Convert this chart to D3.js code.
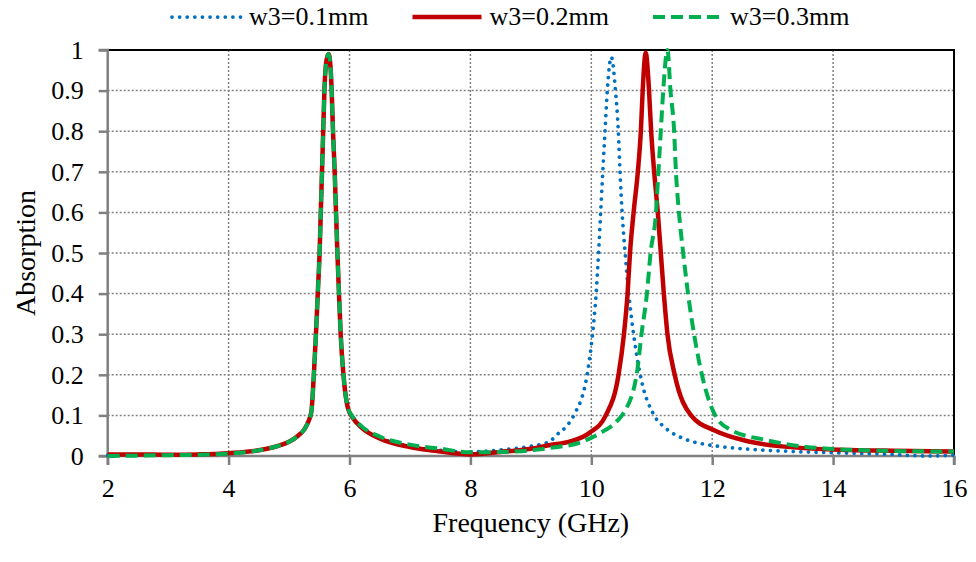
<!DOCTYPE html>
<html>
<head>
<meta charset="utf-8">
<script src="https://cdn.jsdelivr.net/npm/d3@7"></script>
<style>
  body { margin: 0; background: #fff; }
</style>
</head>
<body>
<div id="chart"></div>
<script>
// Data
const seriesNames = ['w3=0.1mm', 'w3=0.2mm', 'w3=0.3mm']

const freq01 = [2, 2.5, 3, 3.5, 4, 4.5, 4.8, 5.0, 5.15, 5.25, 5.32, 5.37, 5.41, 5.445, 5.475, 5.505, 5.525, 5.545, 5.565, 5.585, 5.62, 5.655, 5.685, 5.705, 5.727, 5.755, 5.777, 5.8, 5.826, 5.854, 5.9, 5.97, 6.05, 6.2, 6.5, 7, 7.5, 8, 8.5, 9, 9.3, 9.45, 9.6, 9.71, 9.93, 10.02, 10.08, 10.12, 10.155, 10.19, 10.227, 10.265, 10.33, 10.4, 10.447, 10.475, 10.51, 10.56, 10.62, 10.7, 10.81, 11.04, 11.22, 11.58, 11.96, 12.41, 13.18, 14, 14.8, 15.55, 16]
const abs01 = [0.002, 0.003, 0.003, 0.004, 0.007, 0.014, 0.024, 0.035, 0.05, 0.065, 0.085, 0.11, 0.2, 0.3, 0.4, 0.5, 0.6, 0.7, 0.8, 0.9, 0.975, 0.99, 0.96, 0.9, 0.8, 0.7, 0.6, 0.5, 0.4, 0.3, 0.2, 0.12, 0.095, 0.07, 0.045, 0.024, 0.014, 0.01, 0.015, 0.024, 0.035, 0.055, 0.075, 0.1, 0.2, 0.3, 0.4, 0.5, 0.6, 0.7, 0.8, 0.9, 0.983, 0.9, 0.8, 0.7, 0.6, 0.5, 0.4, 0.3, 0.2, 0.1, 0.07, 0.04, 0.027, 0.019, 0.012, 0.008, 0.005, 0.0, 0.002]

const freq02 = [2, 2.5, 3, 3.5, 4, 4.5, 4.8, 5.0, 5.15, 5.25, 5.32, 5.37, 5.41, 5.445, 5.475, 5.505, 5.525, 5.545, 5.565, 5.585, 5.62, 5.655, 5.685, 5.705, 5.727, 5.755, 5.777, 5.8, 5.826, 5.854, 5.9, 5.97, 6.05, 6.2, 6.5, 7, 7.5, 8, 8.5, 9, 9.32, 9.65, 9.97, 10.24, 10.45, 10.54, 10.6, 10.64, 10.7, 10.77, 10.82, 10.85, 10.9, 10.955, 10.99, 11.04, 11.1, 11.15, 11.2, 11.26, 11.38, 11.65, 12.05, 12.63, 13.45, 14.28, 15, 16]
const abs02 = [0.004, 0.004, 0.003, 0.004, 0.007, 0.014, 0.024, 0.035, 0.05, 0.065, 0.085, 0.11, 0.2, 0.3, 0.4, 0.5, 0.6, 0.7, 0.8, 0.9, 0.975, 0.99, 0.96, 0.9, 0.8, 0.7, 0.6, 0.5, 0.4, 0.3, 0.2, 0.12, 0.095, 0.07, 0.043, 0.022, 0.011, 0.004, 0.01, 0.018, 0.027, 0.036, 0.057, 0.1, 0.2, 0.3, 0.4, 0.5, 0.6, 0.7, 0.8, 0.9, 0.993, 0.9, 0.8, 0.7, 0.6, 0.5, 0.4, 0.3, 0.2, 0.1, 0.062, 0.035, 0.02, 0.015, 0.013, 0.011]

const freq03 = [2, 2.5, 3, 3.5, 4, 4.5, 4.8, 5.0, 5.15, 5.25, 5.32, 5.37, 5.41, 5.445, 5.475, 5.505, 5.525, 5.545, 5.565, 5.585, 5.62, 5.655, 5.685, 5.705, 5.727, 5.755, 5.777, 5.8, 5.826, 5.854, 5.9, 5.97, 6.05, 6.2, 6.5, 7, 7.5, 8, 8.5, 9, 9.32, 9.81, 10.14, 10.42, 10.53, 10.75, 10.83, 10.92, 10.98, 11.07, 11.11, 11.15, 11.19, 11.26, 11.31, 11.37, 11.4, 11.45, 11.52, 11.6, 11.7, 11.83, 12.05, 12.3, 12.9, 13.73, 14.83, 16]
const abs03 = [0.0, 0.001, 0.002, 0.003, 0.006, 0.014, 0.024, 0.035, 0.05, 0.065, 0.085, 0.11, 0.2, 0.3, 0.4, 0.5, 0.6, 0.7, 0.8, 0.9, 0.975, 0.99, 0.96, 0.9, 0.8, 0.7, 0.6, 0.5, 0.4, 0.3, 0.2, 0.12, 0.097, 0.073, 0.048, 0.028, 0.018, 0.009, 0.01, 0.014, 0.02, 0.033, 0.056, 0.085, 0.105, 0.2, 0.3, 0.4, 0.5, 0.6, 0.7, 0.8, 0.9, 1.0, 0.9, 0.8, 0.7, 0.6, 0.5, 0.4, 0.3, 0.2, 0.1, 0.065, 0.039, 0.02, 0.013, 0.011]

const xTicks = [2, 4, 6, 8, 10, 12, 14, 16]
const yTicks = [0, 0.1, 0.2, 0.3, 0.4, 0.5, 0.6, 0.7, 0.8, 0.9, 1]

const serif = '"Liberation Serif", "Times New Roman", serif'

function draw() {
  const width = 976
  const height = 562
  const margin = { left: 107.7, right: 22, top: 50, bottom: 106 }

  const svg = d3.select('#chart')
    .append('svg')
    .attr('width', width)
    .attr('height', height)

  const xScale = d3.scaleLinear()
    .domain([2, 16])
    .range([margin.left, width - margin.right])
  const yScale = d3.scaleLinear()
    .domain([0, 1])
    .range([height - margin.bottom, margin.top])

  const x0 = xScale(2), x1 = xScale(16)
  const y0 = yScale(0), y1 = yScale(1)

  // gridlines
  svg.append('g')
    .selectAll('line')
    .data(xTicks.slice(1, -1))
    .join('line')
    .attr('x1', d => xScale(d)).attr('x2', d => xScale(d))
    .attr('y1', y0).attr('y2', y1)
    .attr('stroke', '#808080')
    .attr('stroke-width', 1.5)
    .attr('stroke-dasharray', '2 2')
  svg.append('g')
    .selectAll('line')
    .data(yTicks.slice(1, -1))
    .join('line')
    .attr('x1', x0).attr('x2', x1)
    .attr('y1', d => yScale(d)).attr('y2', d => yScale(d))
    .attr('stroke', '#808080')
    .attr('stroke-width', 1.5)
    .attr('stroke-dasharray', '2 2')

  // border top/right
  svg.append('path')
    .attr('d', `M${x0},${y1}H${x1}V${y0}`)
    .attr('fill', 'none')
    .attr('stroke', '#000')
    .attr('stroke-width', 2)

  // axes
  const xAxis = d3.axisBottom(xScale).tickValues(xTicks).tickSize(9).tickPadding(14)
  const yAxis = d3.axisLeft(yScale).tickValues(yTicks).tickSize(9).tickPadding(15)
    .tickFormat(d3.format('~g'))

  const gx = svg.append('g')
    .attr('transform', `translate(0, ${y0})`)
    .call(xAxis)
  const gy = svg.append('g')
    .attr('transform', `translate(${x0}, 0)`)
    .call(yAxis)

  ;[gx, gy].forEach(g => {
    g.attr('font-family', null).attr('font-size', null)
    g.select('.domain').attr('stroke', '#808080').attr('stroke-width', 2.5)
    g.selectAll('.tick line').attr('stroke', '#808080').attr('stroke-width', 2.5)
    g.selectAll('.tick text')
      .style('font-family', serif)
      .style('font-size', '26px')
      .attr('fill', '#000')
  })
  gx.select('.domain').attr('d', `M${x0},9V0H${x1}V9`)
  gy.select('.domain').attr('d', `M-9,${y1}H0V${y0}H-9`)

  // lines
  const line = d3.line()
    .x(d => xScale(d[0]))
    .y(d => yScale(d[1]))
    .curve(d3.curveMonotoneX)

  const series = [
    { name: seriesNames[0], pts: d3.zip(freq01, abs01), color: '#0070C0', width: 3.75, dash: '0.01 7.6', cap: 'round' },
    { name: seriesNames[1], pts: d3.zip(freq02, abs02), color: '#C00000', width: 4.5, dash: null, cap: 'butt' },
    { name: seriesNames[2], pts: d3.zip(freq03, abs03), color: '#00B050', width: 4, dash: '12 6', cap: 'butt' }
  ]

  svg.append('g')
    .selectAll('path')
    .data(series)
    .join('path')
    .attr('d', d => line(d.pts))
    .attr('fill', 'none')
    .attr('stroke', d => d.color)
    .attr('stroke-width', d => d.width)
    .attr('stroke-dasharray', d => d.dash)
    .attr('stroke-linecap', d => d.cap)
    .attr('stroke-linejoin', 'round')

  // axis titles
  svg.append('text')
    .attr('x', (x0 + x1) / 2)
    .attr('y', 532)
    .attr('text-anchor', 'middle')
    .style('font-family', serif)
    .style('font-size', '28px')
    .text('Frequency (GHz)')
  svg.append('text')
    .attr('transform', `translate(35, ${(y0 + y1) / 2}) rotate(-90)`)
    .attr('text-anchor', 'middle')
    .style('font-family', serif)
    .style('font-size', '28px')
    .text('Absorption')

  // legend
  const legend = svg.append('g')
    .selectAll('g')
    .data(series)
    .join('g')
    .attr('transform', (d, i) => `translate(${172 + i * 240.5}, 17)`)
  legend.append('line')
    .attr('x1', 0).attr('x2', 69)
    .attr('stroke', d => d.color)
    .attr('stroke-width', d => d.width)
    .attr('stroke-dasharray', d => d.dash)
    .attr('stroke-linecap', d => d.cap)
  legend.append('text')
    .attr('x', 77)
    .attr('y', 8)
    .style('font-family', serif)
    .style('font-size', '26px')
    .text(d => d.name)
}

draw()
</script>
</body>
</html>
